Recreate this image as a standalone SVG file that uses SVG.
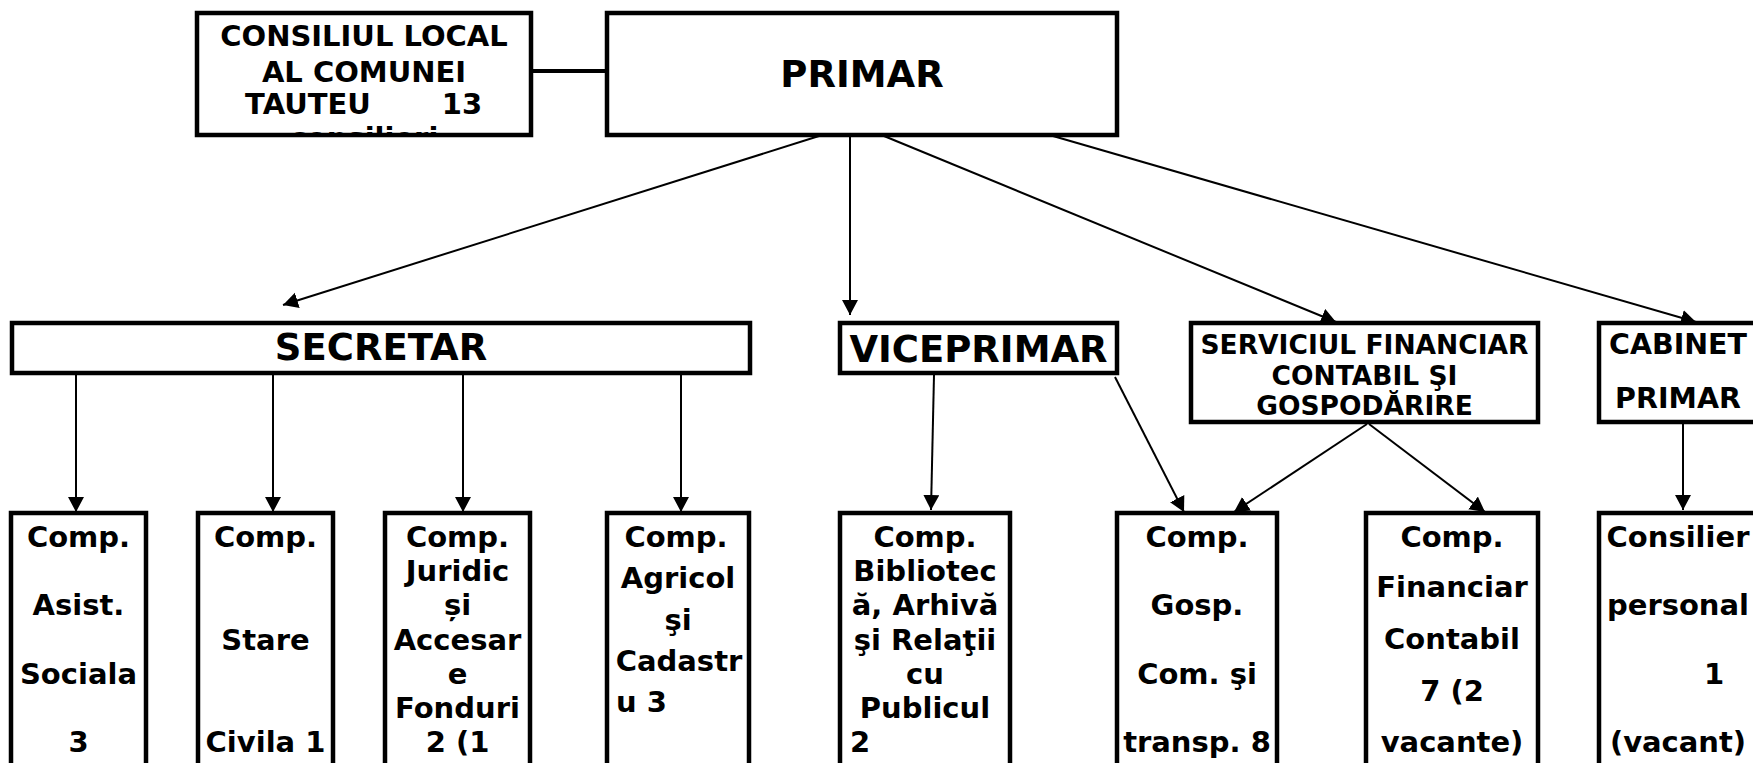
<svg xmlns="http://www.w3.org/2000/svg" width="1753" height="763" viewBox="0 0 1753 763">
<style>
.box{fill:#fff;stroke:#000;stroke-width:4.5}
.t{font-family:"DejaVu Sans","Liberation Sans",sans-serif;font-weight:bold;fill:#000;text-anchor:middle}
.s{font-size:29px}
.l{font-size:37px}
.m{font-size:26.5px}
.k{font-size:28.5px}
.c{stroke:#000;stroke-width:2;fill:none;marker-end:url(#ah)}
</style>
<defs>
<marker id="ah" markerUnits="userSpaceOnUse" markerWidth="18" markerHeight="18" refX="15" refY="8" orient="auto"><path d="M0,0 L15,8 L0,16 z" fill="#000"/></marker>
<clipPath id="clipCons"><rect x="199" y="15" width="330" height="118"/></clipPath>
</defs>

<g id="connectors">
<line x1="531" y1="71" x2="607" y2="71" stroke="#000" stroke-width="4"/>
<line class="c" x1="819" y1="136" x2="283" y2="305"/>
<line class="c" x1="850" y1="136" x2="850" y2="315"/>
<line class="c" x1="884" y1="136" x2="1336" y2="322"/>
<line class="c" x1="1053" y1="136" x2="1696" y2="322"/>
<line class="c" x1="76" y1="375" x2="76" y2="512"/>
<line class="c" x1="273" y1="375" x2="273" y2="512"/>
<line class="c" x1="463" y1="375" x2="463" y2="512"/>
<line class="c" x1="681" y1="375" x2="681" y2="512"/>
<line class="c" x1="934" y1="375" x2="931" y2="510"/>
<line class="c" x1="1115" y1="377" x2="1184" y2="512"/>
<line class="c" x1="1367" y1="424" x2="1234" y2="512"/>
<line class="c" x1="1369" y1="424" x2="1485" y2="512"/>
<line class="c" x1="1683" y1="423" x2="1683" y2="510"/>
</g>

<g id="consiliul">
<rect class="box" x="197" y="13" width="334" height="122"/>
<g clip-path="url(#clipCons)">
<text class="t s" x="364" y="46">CONSILIUL LOCAL</text>
<text class="t s" x="364" y="82">AL COMUNEI</text>
<text class="t s" y="114"><tspan x="308">TAUTEU</tspan><tspan x="462">13</tspan></text>
<text class="t s" x="364" y="148">consilieri</text>
</g>
</g>

<g id="primar">
<rect class="box" x="607" y="13" width="510" height="122"/>
<text class="t l" x="862" y="87">PRIMAR</text>
</g>

<g id="secretar">
<rect class="box" x="12" y="323" width="738" height="50"/>
<text class="t l" x="381" y="360">SECRETAR</text>
</g>

<g id="viceprimar">
<rect class="box" x="840" y="323" width="277" height="50"/>
<text class="t l" x="978.5" y="362">VICEPRIMAR</text>
</g>

<g id="serviciul">
<rect class="box" x="1191" y="323" width="347" height="99"/>
<text class="t m" x="1364.5" y="354">SERVICIUL FINANCIAR</text>
<text class="t m" x="1364.5" y="385">CONTABIL ŞI</text>
<text class="t m" x="1364.5" y="415">GOSPODĂRIRE</text>
</g>

<g id="cabinet">
<rect class="box" x="1599" y="323" width="158" height="99"/>
<text class="t k" x="1678" y="354">CABINET</text>
<text class="t k" x="1678" y="408">PRIMAR</text>
</g>

<g id="asist">
<rect class="box" x="11" y="513" width="135" height="300"/>
<text class="t s" x="78.5" y="547">Comp.</text>
<text class="t s" x="78.5" y="615">Asist.</text>
<text class="t s" x="78.5" y="684">Sociala</text>
<text class="t s" x="78.5" y="752">3</text>
</g>

<g id="stare">
<rect class="box" x="198" y="513" width="135" height="300"/>
<text class="t s" x="265.5" y="547">Comp.</text>
<text class="t s" x="265.5" y="650">Stare</text>
<text class="t s" x="265.5" y="752">Civila 1</text>
</g>

<g id="juridic">
<rect class="box" x="385" y="513" width="145" height="300"/>
<text class="t s" x="457.5" y="547">Comp.</text>
<text class="t s" x="457.5" y="581">Juridic</text>
<text class="t s" x="457.5" y="615">și</text>
<text class="t s" x="457.5" y="650">Accesar</text>
<text class="t s" x="457.5" y="684">e</text>
<text class="t s" x="457.5" y="718">Fonduri</text>
<text class="t s" x="457.5" y="752">2 (1</text>
</g>

<g id="agricol">
<rect class="box" x="607" y="513" width="142" height="300"/>
<text class="t s" x="676" y="547">Comp.</text>
<text class="t s" x="678" y="588">Agricol</text>
<text class="t s" x="678" y="630">şi</text>
<text class="t s" x="679" y="671">Cadastr</text>
<text class="t s" x="616" y="712" style="text-anchor:start">u 3</text>
</g>

<g id="biblioteca">
<rect class="box" x="840" y="513" width="170" height="300"/>
<text class="t s" x="925" y="547">Comp.</text>
<text class="t s" x="925" y="581">Bibliotec</text>
<text class="t s" x="925" y="615">ă, Arhivă</text>
<text class="t s" x="925" y="650">şi Relaţii</text>
<text class="t s" x="925" y="684">cu</text>
<text class="t s" x="925" y="718">Publicul</text>
<text class="t s" x="850" y="752" style="text-anchor:start">2</text>
</g>

<g id="gosp">
<rect class="box" x="1117" y="513" width="160" height="300"/>
<text class="t s" x="1197" y="547">Comp.</text>
<text class="t s" x="1197" y="615">Gosp.</text>
<text class="t s" x="1197" y="684">Com. şi</text>
<text class="t s" x="1197" y="752">transp. 8</text>
</g>

<g id="financiar">
<rect class="box" x="1366" y="513" width="172" height="300"/>
<text class="t s" x="1452" y="547">Comp.</text>
<text class="t s" x="1452" y="597">Financiar</text>
<text class="t s" x="1452" y="649">Contabil</text>
<text class="t s" x="1452" y="701">7 (2</text>
<text class="t s" x="1452" y="752">vacante)</text>
</g>

<g id="consilier">
<rect class="box" x="1599" y="513" width="158" height="300"/>
<text class="t s" x="1678" y="547">Consilier</text>
<text class="t s" x="1678" y="615">personal</text>
<text class="t s" x="1714" y="684">1</text>
<text class="t s" x="1678" y="752">(vacant)</text>
</g>
</svg>
